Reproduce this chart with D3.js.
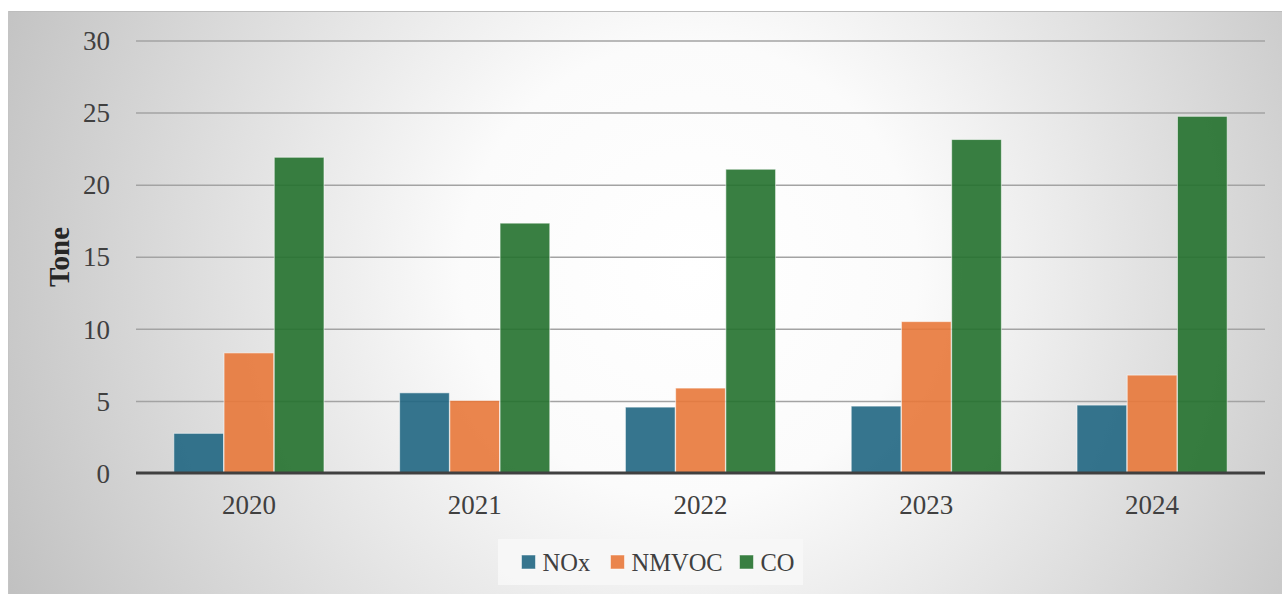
<!DOCTYPE html>
<html>
<head>
<meta charset="utf-8">
<script src="https://cdn.jsdelivr.net/npm/d3@7"></script>
<style>
  html, body { margin: 0; padding: 0; background: #ffffff; }
  svg { display: block; }
</style>
</head>
<body>
<svg id="chart" width="1282" height="594"></svg>
<script>
const years = ["2020", "2021", "2022", "2023", "2024"];
const seriesNames = ["NOx", "NMVOC", "CO"];
const noxValues = [2.75, 5.56, 4.57, 4.64, 4.71];
const nmvocValues = [8.33, 5.03, 5.89, 10.5, 6.79];
const coValues = [21.9, 17.33, 21.07, 23.13, 24.74];
const yTicks = [0, 5, 10, 15, 20, 25, 30];
const seriesColors = ["#206682", "#e8783a", "#24712e"];
const yLabel = "Tone";

(function () {
const seriesValues = [noxValues, nmvocValues, coValues];
const rows = years.map((yr, i) => ({year: yr, values: seriesNames.map((s, j) => ({key: s, value: seriesValues[j][i], color: seriesColors[j]}))}));

const svg = d3.select("#chart");
const W = 1282, H = 594;

// background gradient
const defs = svg.append("defs");
const rg = defs.append("radialGradient").attr("id", "bg")
  .attr("gradientUnits", "userSpaceOnUse")
  .attr("cx", 690).attr("cy", 270).attr("r", 760);
rg.append("stop").attr("offset", "0").attr("stop-color", "#ffffff");
rg.append("stop").attr("offset", "0.3").attr("stop-color", "#fbfbfb");
rg.append("stop").attr("offset", "1").attr("stop-color", "#c0c0c0");

svg.append("rect").attr("x", 8).attr("y", 11).attr("width", W - 8).attr("height", H - 11)
  .attr("fill", "url(#bg)");
svg.append("line").attr("x1", 8).attr("x2", W).attr("y1", 11.5).attr("y2", 11.5)
  .attr("stroke", "#bdbdbd").attr("stroke-width", 1);
svg.append("line").attr("x1", 8.5).attr("x2", 8.5).attr("y1", 11).attr("y2", H)
  .attr("stroke", "#c4c4c4").attr("stroke-width", 1);

const pLeft = 136, pRight = 1265, pTop = 40.5, pBottom = 473;
const y = d3.scaleLinear().domain([0, 30]).range([pBottom, pTop]);
const x0 = d3.scaleBand().domain(years).range([pLeft, pRight]).paddingInner(0.335).paddingOuter(0.1675);
const x1 = d3.scaleBand().domain(seriesNames).range([0, x0.bandwidth()]).paddingInner(0.01);

// gridlines
const grid = svg.append("g").attr("transform", `translate(${pLeft},0)`)
  .call(d3.axisLeft(y).tickValues(yTicks.filter(t => t > 0)).tickSize(-(pRight - pLeft)).tickFormat(""));
grid.select(".domain").remove();
grid.selectAll(".tick line").attr("stroke", "#a3a3a3").attr("stroke-width", 1.5);

// bars
const groups = svg.append("g").selectAll("g").data(rows).join("g")
  .attr("transform", d => `translate(${x0(d.year)},0)`);
groups.selectAll("rect").data(d => d.values).join("rect")
  .attr("x", d => x1(d.key))
  .attr("y", d => y(d.value))
  .attr("width", x1.bandwidth())
  .attr("height", d => y(0) - y(d.value))
  .attr("fill", d => d.color)
  .attr("fill-opacity", 0.9)
  .attr("stroke", "#ffffff")
  .attr("stroke-opacity", 0.55)
  .attr("stroke-width", 1);

// zero axis
svg.append("line").attr("x1", pLeft).attr("x2", pRight).attr("y1", y(0)).attr("y2", y(0))
  .attr("stroke", "#404040").attr("stroke-width", 3);

// y axis labels
const yAxis = svg.append("g").attr("transform", `translate(110,0)`)
  .call(d3.axisLeft(y).tickValues(yTicks).tickSize(0).tickPadding(0));
yAxis.select(".domain").remove();
yAxis.selectAll("text")
  .attr("font-family", "'Liberation Serif', serif")
  .attr("font-size", 27)
  .attr("fill", "#404040")
  .attr("dy", "0.34em");

// x axis labels
const xAxis = svg.append("g").attr("transform", `translate(0,${y(0)})`)
  .call(d3.axisBottom(x0).tickSize(0).tickPadding(0));
xAxis.select(".domain").remove();
xAxis.selectAll("text")
  .attr("font-family", "'Liberation Serif', serif")
  .attr("font-size", 27)
  .attr("fill", "#404040")
  .attr("dy", null)
  .attr("y", 41);

// y label
svg.append("text")
  .attr("transform", "translate(69,257) rotate(-90)")
  .attr("text-anchor", "middle")
  .attr("font-family", "'Liberation Serif', serif")
  .attr("font-weight", "bold")
  .attr("font-size", 29)
  .attr("fill", "#262626")
  .text(yLabel);

// legend
svg.append("rect").attr("x", 498).attr("y", 539).attr("width", 305).attr("height", 46)
  .attr("fill", "#f7f7f7").attr("fill-opacity", 0.9);
const legendX = [521.5, 610.5, 739.5];
const leg = svg.append("g").selectAll("g").data(seriesNames).join("g")
  .attr("transform", (d, i) => `translate(${legendX[i]},555)`);
leg.append("rect").attr("width", 14).attr("height", 14)
  .attr("fill", (d, i) => seriesColors[i]).attr("fill-opacity", 0.9)
  .attr("stroke", "#ffffff").attr("stroke-opacity", 0.5);
leg.append("text").attr("x", 21).attr("y", 15.5)
  .attr("font-family", "'Liberation Serif', serif")
  .attr("font-size", 24.5)
  .attr("fill", "#404040")
  .text(d => d);
})();
</script>
</body>
</html>
